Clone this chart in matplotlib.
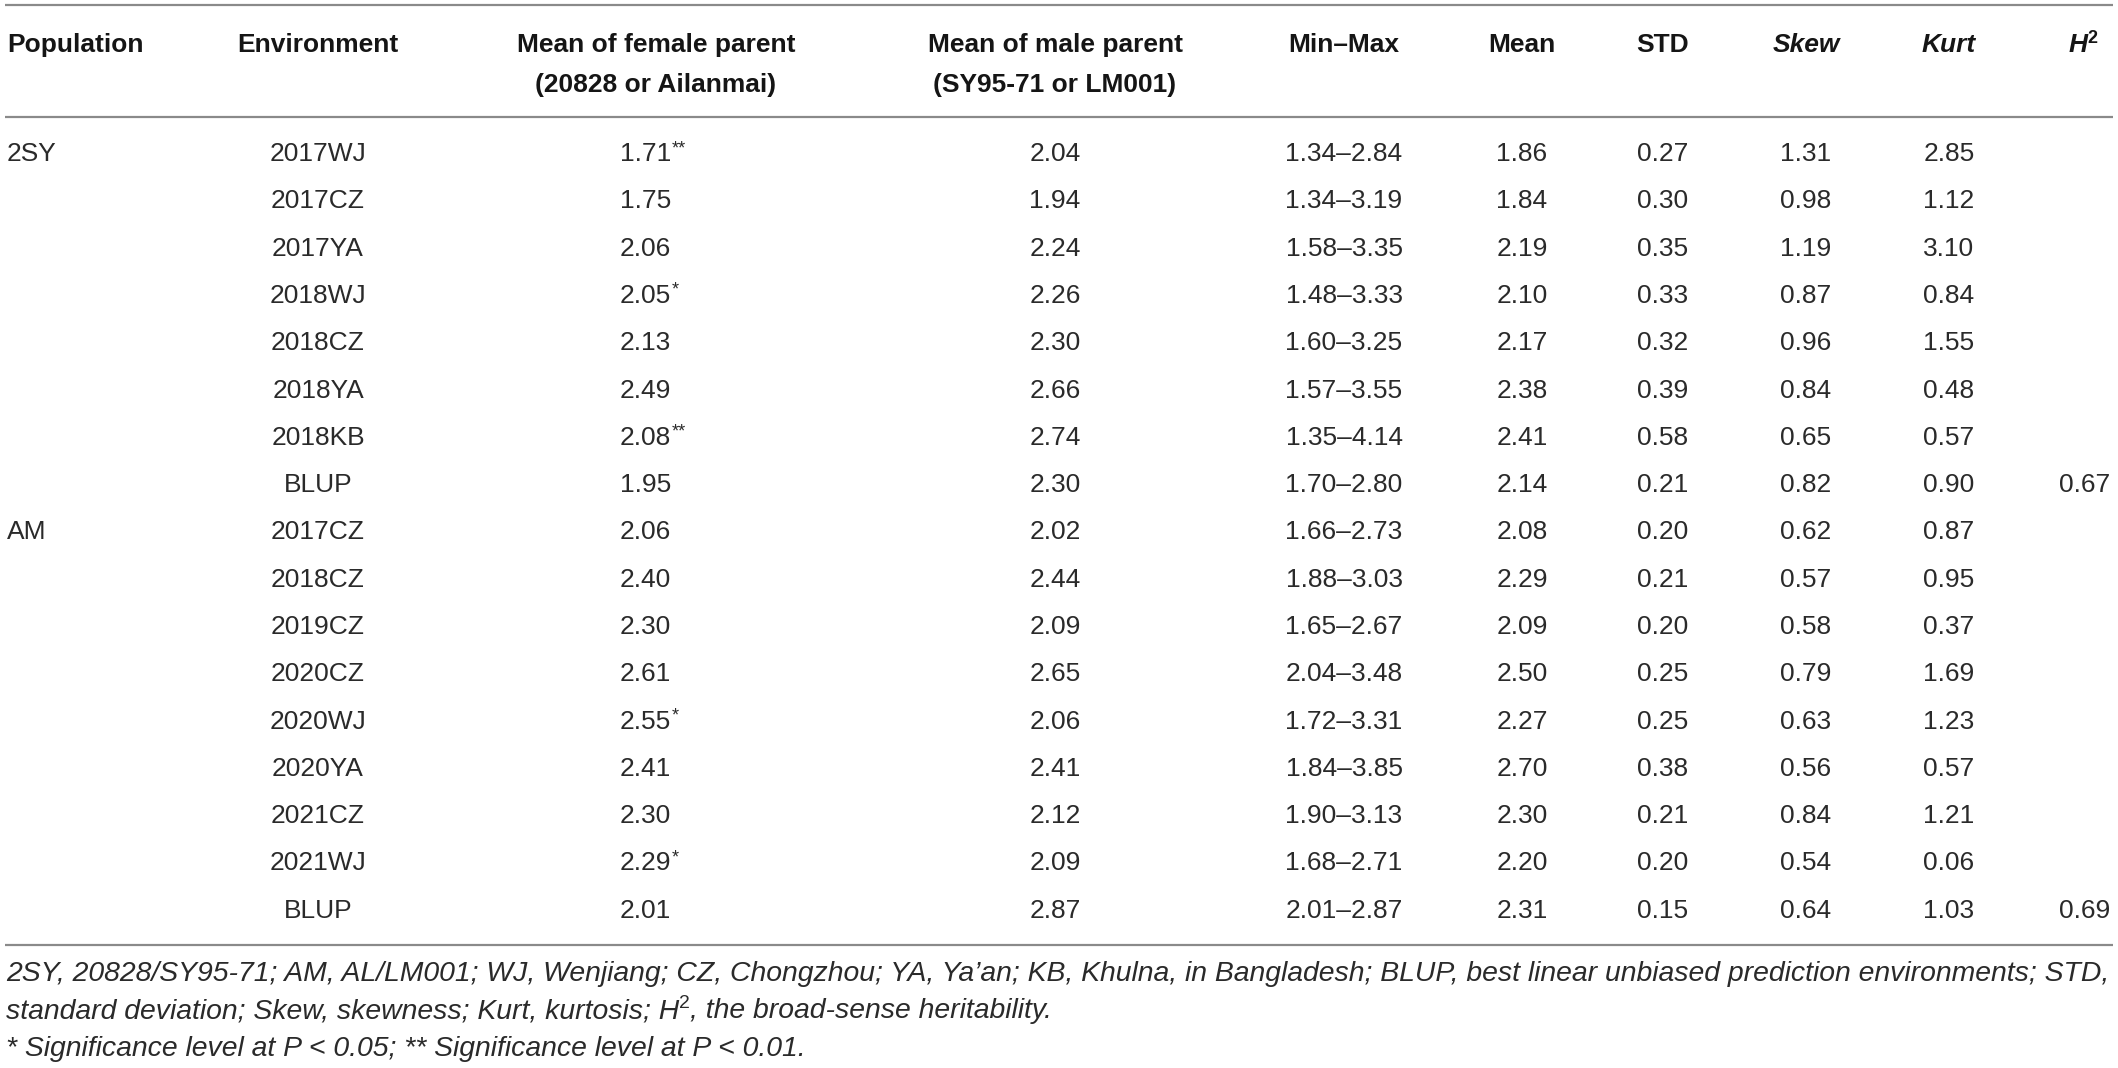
import matplotlib
matplotlib.use("Agg")
import matplotlib.pyplot as plt

# ---------------- data ----------------
col_headers = ["Population", "Environment", "Mean of female parent", "Mean of male parent",
               "Min–Max", "Mean", "STD", "Skew", "Kurt", "H"]
col_headers2 = ["", "", "(20828 or Ailanmai)", "(SY95-71 or LM001)", "", "", "", "", "", ""]
populations = ["2SY", "AM"]
population_rows = [0, 8]
environments = ["2017WJ", "2017CZ", "2017YA", "2018WJ", "2018CZ", "2018YA", "2018KB", "BLUP",
                "2017CZ", "2018CZ", "2019CZ", "2020CZ", "2020WJ", "2020YA", "2021CZ", "2021WJ", "BLUP"]
female_mean = [1.71, 1.75, 2.06, 2.05, 2.13, 2.49, 2.08, 1.95,
               2.06, 2.40, 2.30, 2.61, 2.55, 2.41, 2.30, 2.29, 2.01]
female_sig = ["**", "", "", "*", "", "", "**", "",
              "", "", "", "", "*", "", "", "*", ""]
male_mean = [2.04, 1.94, 2.24, 2.26, 2.30, 2.66, 2.74, 2.30,
             2.02, 2.44, 2.09, 2.65, 2.06, 2.41, 2.12, 2.09, 2.87]
min_vals = [1.34, 1.34, 1.58, 1.48, 1.60, 1.57, 1.35, 1.70,
            1.66, 1.88, 1.65, 2.04, 1.72, 1.84, 1.90, 1.68, 2.01]
max_vals = [2.84, 3.19, 3.35, 3.33, 3.25, 3.55, 4.14, 2.80,
            2.73, 3.03, 2.67, 3.48, 3.31, 3.85, 3.13, 2.71, 2.87]
mean_vals = [1.86, 1.84, 2.19, 2.10, 2.17, 2.38, 2.41, 2.14,
             2.08, 2.29, 2.09, 2.50, 2.27, 2.70, 2.30, 2.20, 2.31]
std_vals = [0.27, 0.30, 0.35, 0.33, 0.32, 0.39, 0.58, 0.21,
            0.20, 0.21, 0.20, 0.25, 0.25, 0.38, 0.21, 0.20, 0.15]
skew_vals = [1.31, 0.98, 1.19, 0.87, 0.96, 0.84, 0.65, 0.82,
             0.62, 0.57, 0.58, 0.79, 0.63, 0.56, 0.84, 0.54, 0.64]
kurt_vals = [2.85, 1.12, 3.10, 0.84, 1.55, 0.48, 0.57, 0.90,
             0.87, 0.95, 0.37, 1.69, 1.23, 0.57, 1.21, 0.06, 1.03]
h2_vals = [None, None, None, None, None, None, None, 0.67,
           None, None, None, None, None, None, None, None, 0.69]

footnote1 = ("2SY, 20828/SY95-71; AM, AL/LM001; WJ, Wenjiang; CZ, Chongzhou; YA, Ya’an; KB, Khulna, "
             "in Bangladesh; BLUP, best linear unbiased prediction environments; STD,")
footnote2a = "standard deviation; Skew, skewness; Kurt, kurtosis; H"
footnote2b = "2"
footnote2c = ", the broad-sense heritability."
footnote3 = "* Significance level at P < 0.05; ** Significance level at P < 0.01."

# ---------------- layout ----------------
W, H = 2118, 1068
FONT = "Liberation Sans"
FS = 19
TXT = "#2a2a2a"
HDR = "#151515"
RULE = "#8a8a8a"

fig = plt.figure(figsize=(W / 100, H / 100), dpi=100)
ax = fig.add_axes([0, 0, 1, 1])
ax.set_xlim(0, W)
ax.set_ylim(H, 0)
ax.axis("off")
renderer = fig.canvas.get_renderer()

col_x = [7, 318, 656, 1055, 1344, 1522, 1663, 1806, 1949, 2083]
female_left = 620
h2_right = 2110
row0, row_step = 152, 47.3
cap_half = 9


def runs(x, y, parts, ha="left", fs=FS):
    """parts: list of (text, kwargs, dy) drawn left to right on baseline y."""
    objs, widths = [], []
    for s, kw, dy in parts:
        kw2 = dict(family=FONT, fontsize=fs, color=TXT)
        kw2.update(kw)
        t = ax.text(0, y - dy, s, ha="left", va="baseline", **kw2)
        bb = t.get_window_extent(renderer)
        objs.append(t)
        widths.append(bb.width)
    total = sum(widths)
    cur = x - total / 2 if ha == "center" else x
    for t, w in zip(objs, widths):
        t.set_x(cur)
        cur += w


# rules
for yy in (5, 117, 945):
    ax.plot([5, 2113], [yy, yy], color=RULE, lw=1.6, solid_capstyle="butt")

# headers
h1, h2b = 43 + cap_half, 83 + cap_half
for i, (a, b) in enumerate(zip(col_headers, col_headers2)):
    style = "italic" if a in ("Skew", "Kurt", "H") else "normal"
    if a == "H":
        runs(col_x[i], h1, [(a, dict(weight="bold", style="italic", color=HDR), 0),
                            ("2", dict(weight="bold", fontsize=13, color=HDR), 9)], ha="center")
        continue
    ha = "left" if i == 0 else "center"
    ax.text(col_x[i], h1, a, ha=ha, va="baseline", family=FONT, fontsize=FS,
            weight="bold", style=style, color=HDR)
    if b:
        ax.text(col_x[i], h2b, b, ha=ha, va="baseline", family=FONT, fontsize=FS,
                weight="bold", color=HDR)

# body
for r in range(len(environments)):
    yb = row0 + r * row_step + cap_half
    if r in population_rows:
        ax.text(col_x[0], yb, populations[population_rows.index(r)], ha="left",
                va="baseline", family=FONT, fontsize=FS, color=TXT)
    ax.text(col_x[1], yb, environments[r], ha="center", va="baseline",
            family=FONT, fontsize=FS, color=TXT)
    parts = [(f"{female_mean[r]:.2f}", {}, 0)]
    if female_sig[r]:
        parts.append((female_sig[r], dict(fontsize=13), 8))
    runs(female_left, yb, parts)
    cells = [f"{male_mean[r]:.2f}", f"{min_vals[r]:.2f}–{max_vals[r]:.2f}",
             f"{mean_vals[r]:.2f}", f"{std_vals[r]:.2f}", f"{skew_vals[r]:.2f}",
             f"{kurt_vals[r]:.2f}"]
    for c, s in zip(col_x[3:9], cells):
        ax.text(c, yb, s, ha="center", va="baseline", family=FONT, fontsize=FS, color=TXT)
    if h2_vals[r] is not None:
        ax.text(h2_right, yb, f"{h2_vals[r]:.2f}", ha="right", va="baseline",
                family=FONT, fontsize=FS, color=TXT)

# footnotes: size chosen so that the first line spans the table width
fx0, fx1 = 6, 2110
probe = ax.text(fx0, 0, footnote1, family=FONT, fontsize=20, style="italic")
pw = probe.get_window_extent(renderer).width
probe.remove()
FFS = 20 * (fx1 - fx0) / pw

fy = [981, 1018, 1056]
ax.text(fx0, fy[0], footnote1, ha="left", va="baseline", family=FONT, fontsize=FFS,
        style="italic", color=TXT)
runs(fx0, fy[1], [(footnote2a, dict(style="italic"), 0),
                  (footnote2b, dict(fontsize=FFS * 0.68), 10),
                  (footnote2c, dict(style="italic"), 0)], fs=FFS)
ax.text(fx0, fy[2], footnote3, ha="left", va="baseline", family=FONT, fontsize=FFS,
        style="italic", color=TXT)

fig.savefig("out.png", dpi=100)
